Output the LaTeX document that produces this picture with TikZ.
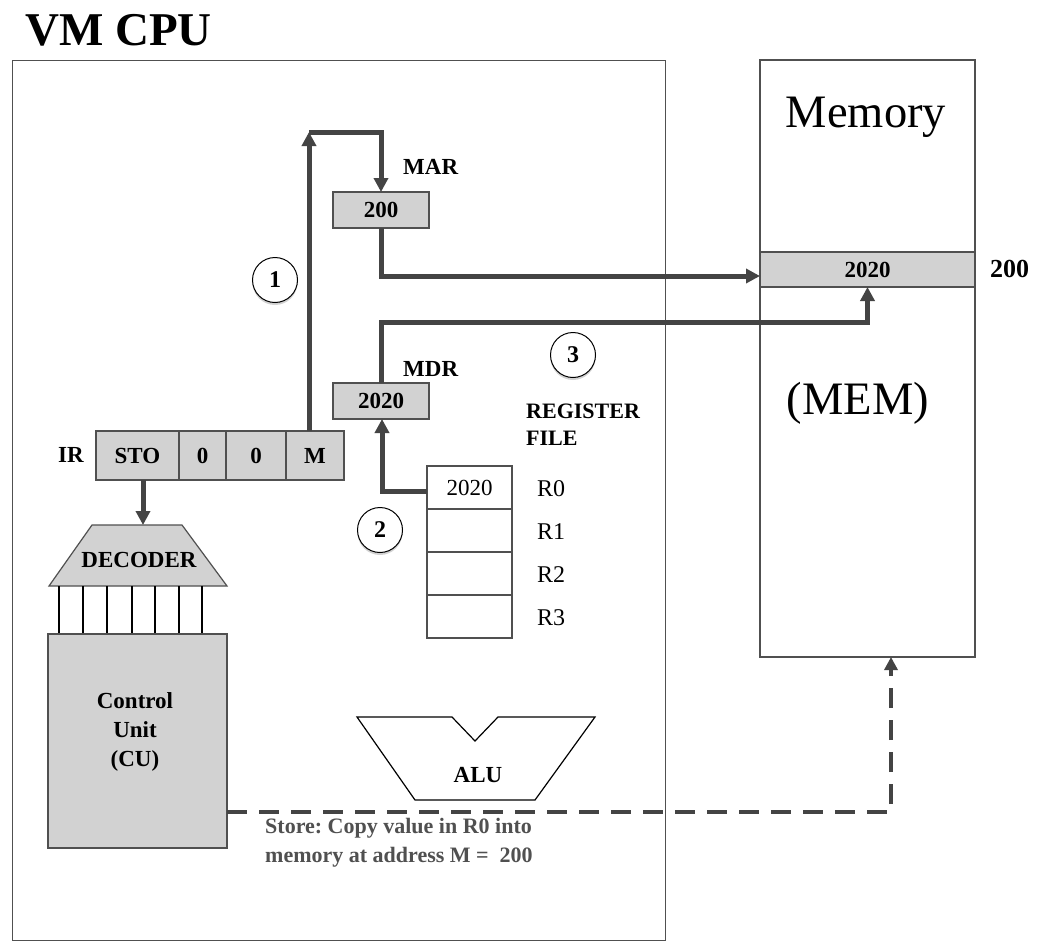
\documentclass[tikz,border=0pt]{standalone}
\usepackage{fontspec}
\setmainfont{Liberation Serif}
\usetikzlibrary{arrows.meta,shadows}
\definecolor{boxgray}{RGB}{210,210,210}
\definecolor{edgegray}{RGB}{80,80,80}
\definecolor{flowgray}{RGB}{68,68,68}
\definecolor{notegray}{RGB}{80,80,80}
\frenchspacing
\begin{document}
\begin{tikzpicture}[x=1pt,y=-1pt,
  regbox/.style={draw=edgegray,fill=boxgray,line width=1.2pt,inner sep=0pt,outer sep=0pt,
     font=\fontsize{23}{28}\selectfont\bfseries},
  plainbox/.style={draw=edgegray,fill=white,line width=1.2pt,inner sep=0pt,outer sep=0pt,
     font=\fontsize{23}{28}\selectfont},
  lbl/.style={inner sep=0pt,font=\fontsize{23}{28}\selectfont\bfseries},
  plainlbl/.style={inner sep=0pt,font=\fontsize{24}{28}\selectfont},
  flow/.style={draw=flowgray,line width=5pt},
  tipped/.style={-{Triangle[length=14pt,width=14pt]}},
  dasharrow/.style={draw=flowgray,line width=4pt,dash pattern=on 20pt off 12pt,-{Triangle[length=13pt,width=13pt]}},
  stepnum/.style={circle,draw=black,line width=1pt,fill=white,minimum size=45pt,inner sep=0pt,
     font=\fontsize{24}{28}\selectfont\bfseries,
     drop shadow={shadow xshift=0pt,shadow yshift=-2.5pt,opacity=0.35}}
]
\useasboundingbox (0,0) rectangle (1039,943);
\fill[white] (0,0) rectangle (1039,943);

% title
\node[anchor=base west,inner sep=0pt,font=\fontsize{47}{50}\selectfont\bfseries] (title) at (25,45) {VM CPU};

% CPU box
\node[draw=edgegray,line width=1.2pt,minimum width=653pt,minimum height=880pt,inner sep=0pt,anchor=north west] (cpu) at (12,60) {};

% Memory
\node[plainbox,minimum width=215pt,minimum height=597pt,anchor=north west] (mem) at (760,60) {};
\node[regbox,minimum width=215pt,minimum height=35pt,anchor=north west] (memcell) at (760,252) {2020};
\node[anchor=base,inner sep=0pt,font=\fontsize{46.5}{50}\selectfont] (memtitle) at (866,127) {Memory};
\node[anchor=base,inner sep=0pt,font=\fontsize{46.5}{50}\selectfont] (memname) at (858,414) {(MEM)};
\node[lbl,anchor=west,font=\fontsize{26}{30}\selectfont\bfseries] (addr) at (990,269) {200};

% MAR / MDR
\node[regbox,minimum width=96pt,minimum height=36pt,anchor=north west] (mar) at (333,192) {200};
\node[lbl,anchor=south west] (marlbl) at (403,175) {MAR};
\node[regbox,minimum width=96pt,minimum height=36pt,anchor=north west] (mdr) at (333,383) {2020};
\node[lbl,anchor=south west] (mdrlbl) at (403,377) {MDR};

% IR
\node[regbox,minimum width=83pt,minimum height=49pt,anchor=north west] (ir1) at (96,431) {STO};
\node[regbox,minimum width=47pt,minimum height=49pt,anchor=north west] (ir2) at (179,431) {0};
\node[regbox,minimum width=60pt,minimum height=49pt,anchor=north west] (ir3) at (226,431) {0};
\node[regbox,minimum width=58pt,minimum height=49pt,anchor=north west] (ir4) at (286,431) {M};
\node[lbl,anchor=east] (irlbl) at (84,455) {IR};

% Decoder
\draw[draw=edgegray,fill=boxgray,line width=1.2pt] (92,525) -- (182,525) -- (227,586) -- (49,586) -- cycle;
\node[lbl] (dec) at (139,560) {DECODER};
\coordinate (dectop) at (143,525);
\foreach \xx/\ww in {59/2.4,83/1.4,107/2.4,132/1.4,155/1.4,179/1.4,202/1.4}
  \draw[black,line width=\ww pt] (\xx,586) -- (\xx,634);

% Control unit
\node[regbox,minimum width=179pt,minimum height=214pt,anchor=north west] (cu) at (48,634) {};
\node[lbl,align=center,font=\fontsize{23}{29}\selectfont\bfseries] (cutext) at (135,732) {Control\\Unit\\(CU)};

% Register file
\node[lbl,align=left,anchor=north west,font=\fontsize{22}{27}\selectfont\bfseries] (rflbl) at (526,404) {REGISTER\\FILE};
\node[plainbox,minimum width=85pt,minimum height=43pt,anchor=north west] (r0) at (427,466) {2020};
\node[plainbox,minimum width=85pt,minimum height=43pt,anchor=north west] (r1) at (427,509) {};
\node[plainbox,minimum width=85pt,minimum height=43pt,anchor=north west] (r2) at (427,552) {};
\node[plainbox,minimum width=85pt,minimum height=43pt,anchor=north west] (r3) at (427,595) {};
\node[plainlbl] (r0lbl) at (551,489) {R0};
\node[plainlbl] (r1lbl) at (551,532) {R1};
\node[plainlbl] (r2lbl) at (551,575) {R2};
\node[plainlbl] (r3lbl) at (551,618) {R3};

% ALU
\draw[black,line width=1.2pt,fill=white] (357,717) -- (452,717) -- (475,741) -- (498,717) -- (595,717) -- (535,800) -- (415,800) -- cycle;
\node[lbl] (alu) at (478,775) {ALU};

% step numbers
\node[stepnum] (s1) at (275,280) {1};
\node[stepnum] (s2) at (380,530) {2};
\node[stepnum] (s3) at (573,355) {3};

% arrows
\coordinate (c1) at (309,132);
\draw[flow,tipped] (ir4.north -| c1) -- (c1);
\draw[flow,tipped] (c1) -| (mar.north);
\draw[flow,tipped] (ir1.south -| dectop) -- (dectop);
\coordinate (a3) at (381,276);
\draw[flow,tipped] (mar.south) -- (mar.south |- a3) -- (a3 -| mem.west);
\coordinate (b3) at (381,322);
\draw[flow,tipped] (mdr.north) -- (mdr.north |- b3) -| (memcell.south);
\coordinate (c2) at (382,491);
\draw[flow,tipped] (r0.west |- c2) -- (c2) -- (c2 |- mdr.south);

% dashed control line
\coordinate (dc) at (891,812);
\draw[dasharrow] (cu.east |- dc) -- (dc) -- (dc |- mem.south);

% note
\node[anchor=north west,inner sep=0pt,align=left,text=notegray,font=\fontsize{22}{29}\selectfont\bfseries] (note) at (265,818) {Store: Copy value in R0 into\\memory at address M =\ \ 200};
\end{tikzpicture}
\end{document}
